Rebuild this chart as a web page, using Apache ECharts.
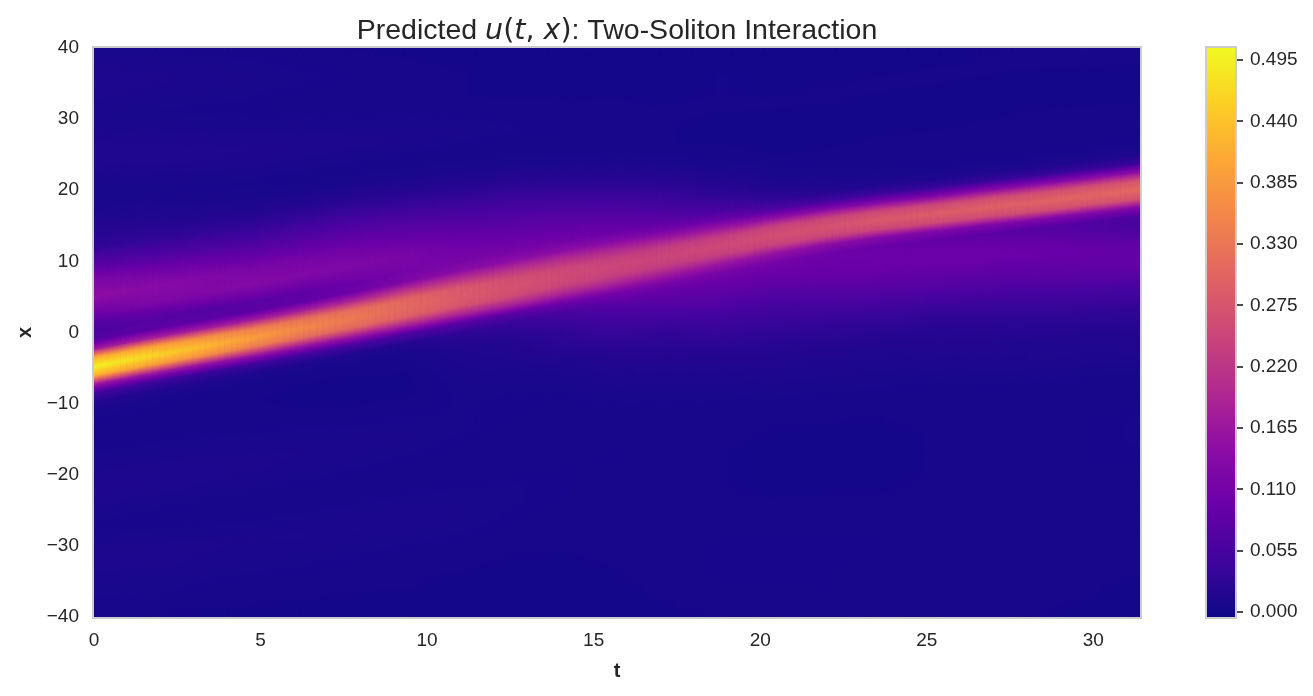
<!DOCTYPE html>
<html><head><meta charset="utf-8">
<style>html,body{margin:0;padding:0;background:#fff}#c{width:1313px;height:696px}</style>
<script src="https://cdn.jsdelivr.net/npm/echarts@6/dist/echarts.min.js"></script>
</head><body><div id="c"></div>
<script>
// Crest of the bright band at each t column
const crestX=[-4.8,-3.4,-2.1,-0.8,0.6,2,3.5,5,6.4,7.9,9.3,10.8,12.2,13.6,14.8,15.8,16.6,17.5,18.3,19.2,20.1];
// u(t,x), in thousandths. Each column has 46 samples:
// 17 between x=-40 and the band, 13 across the band (crest +/- 7.5 in 1.25 steps), 16 from the band up to x=40.
const u00=[4,5,7,8,10,12,10,7,6,8,11,13,11,9,7,6,5, 6,8,18,48,161,415,500,418,171,75,58,74,100, 148,122,72,30,20,12,7,8,13,14,10,8,10,12,10,7];
const u01=[3,5,7,8,10,12,10,7,6,7,10,12,11,9,7,5,5, 6,8,16,44,166,400,470,403,180,82,72,92,125, 140,108,62,30,18,11,7,9,14,13,9,7,9,11,9,6];
const u02=[3,4,6,7,9,10,10,7,5,6,9,11,11,9,7,5,4, 5,7,14,40,160,373,435,376,178,82,68,100,130, 132,98,60,30,16,9,6,10,14,12,8,6,8,9,8,5];
const u03=[3,4,5,6,8,9,10,7,5,5,8,10,10,9,6,5,4, 4,6,13,43,162,342,395,347,178,80,76,108,135, 122,88,55,30,15,8,6,10,13,11,7,6,7,8,7,5];
const u04=[3,3,5,6,7,9,10,8,5,5,7,9,10,8,6,4,3, 4,5,12,46,162,320,360,326,182,86,84,110,130, 118,88,60,34,17,8,5,9,12,10,7,5,6,7,6,4];
const u05=[3,3,4,5,6,8,10,9,6,5,6,8,9,7,5,3,3, 4,6,14,52,166,306,335,316,195,106,98,115,128, 110,86,62,37,20,9,5,8,11,9,6,5,5,6,5,3];
const u06=[3,3,4,4,5,7,9,9,7,5,5,7,8,7,5,3,3, 6,8,18,58,178,294,310,303,215,128,114,118,118, 98,76,54,33,18,9,5,7,10,8,6,4,4,5,4,3];
const u07=[2,3,3,4,5,6,8,8,7,5,5,6,7,7,7,8,10, 12,18,30,72,184,275,288,280,212,140,118,108,100, 82,65,46,29,16,9,5,6,8,7,5,4,4,4,3,3];
const u08=[2,2,3,3,4,5,6,7,7,5,4,5,6,6,7,9,13, 18,25,38,80,185,258,270,262,208,145,117,102,90, 74,59,41,27,16,9,5,5,7,6,5,3,3,3,3,3];
const u09=[2,2,3,3,4,4,5,6,6,6,5,5,5,6,8,12,22, 32,42,58,100,185,245,258,248,200,142,110,95,80, 64,48,32,20,12,7,5,6,6,5,4,3,3,3,3,3];
const u10=[2,3,3,4,5,5,4,4,5,6,6,5,6,9,13,20,32, 48,62,82,112,180,235,250,236,190,130,97,82,66, 52,36,24,15,9,6,5,5,5,4,4,3,3,3,3,3];
const u11=[3,4,5,6,5,5,4,4,5,5,5,4,7,10,15,24,35, 62,76,92,118,176,234,250,234,172,110,78,60,45, 32,22,14,9,6,4,4,4,4,4,3,3,3,3,3,3];
const u12=[4,5,6,6,6,5,4,4,4,4,5,5,8,12,18,31,48, 74,85,97,118,166,237,255,235,165,97,56,38,25, 18,12,8,5,4,3,3,3,4,4,4,4,4,3,3,3];
const u13=[5,5,6,6,6,5,4,3,3,3,4,5,9,13,20,33,48, 75,91,100,113,156,244,265,244,150,65,32,18,11, 8,6,4,3,3,3,3,3,4,4,3,3,3,3,3,3];
const u14=[5,6,6,6,6,5,4,3,3,3,4,5,9,13,22,35,60, 87,95,100,104,142,246,272,246,138,48,18,11,8, 6,5,4,3,3,3,3,3,4,4,4,3,3,3,3,3];
const u15=[4,5,5,6,6,5,4,3,3,3,4,5,9,13,22,39,66, 92,98,100,97,132,251,282,251,131,41,14,8,6, 5,5,4,4,3,3,3,3,3,4,4,4,3,3,3,3];
const u16=[4,4,5,5,5,5,4,4,4,4,5,5,10,14,20,38,68, 94,98,97,88,123,254,290,254,130,38,12,7,6, 5,5,4,4,3,3,3,3,3,3,4,4,4,3,3,3];
const u17=[4,4,4,5,5,5,5,4,4,4,5,6,11,15,24,42,72, 96,98,94,80,126,258,295,260,136,36,12,7,6, 5,5,5,4,4,3,3,3,3,3,3,4,4,4,4,3];
const u18=[4,4,4,4,5,5,5,5,5,5,5,6,12,15,26,46,78, 97,94,82,72,126,264,300,264,140,38,12,7,6, 5,5,5,4,4,4,3,3,3,3,3,3,4,4,4,4];
const u19=[3,4,4,4,4,5,5,6,6,6,5,6,12,16,28,50,84, 94,84,68,66,128,268,305,268,142,38,12,7,6, 5,5,4,4,4,4,3,3,3,3,3,3,4,4,4,4];
const u20=[3,3,4,4,4,5,5,6,7,7,5,5,13,17,31,56,90, 85,66,54,62,132,272,310,272,143,38,12,7,6, 5,5,4,4,4,4,3,3,3,3,3,3,4,4,4,4];
const columns=[u00,u01,u02,u03,u04,u05,u06,u07,u08,u09,u10,u11,u12,u13,u14,u15,u16,u17,u18,u19,u20];

const tStep=1.57, tMax=31.4, xLow=-40, xHigh=40, nBelow=17, nAbove=16, bandStep=1.25, bandHalf=7.5;
const xTicksStep=5, yTicksStep=10;
const barTickLabels=[0,0.055,0.11,0.165,0.22,0.275,0.33,0.385,0.44,0.495];
const plasma=['#0d0887','#41049d','#6a00a8','#8f0da4','#b12a90','#cc4778','#e16462','#f2844b','#fca636','#fcce25','#f0f921'];
const vLow=-0.0045, vHigh=0.5058;

function hexRgb(h){return [1,3,5].map(k=>parseInt(h.substr(k,2),16));}
const plasmaRgb=plasma.map(hexRgb);
function colorOf(v){
  let f=(v-vLow)/(vHigh-vLow); f=Math.max(0,Math.min(1,f))*(plasma.length-1);
  const a=Math.min(Math.floor(f),plasma.length-2), r=f-a;
  const c=plasmaRgb[a].map((q,k)=>Math.round(q+(plasmaRgb[a+1][k]-q)*r));
  return 'rgb('+c.join(',')+')';
}
function rowX(i,j){
  const c=crestX[i];
  if(j<nBelow) return xLow+(c-bandHalf-xLow)*j/nBelow;
  const mid=nBelow+bandHalf/bandStep;
  if(j<=mid+bandHalf/bandStep) return c+(j-mid)*bandStep;
  const top=mid+bandHalf/bandStep;
  return c+bandHalf+(xHigh-c-bandHalf)*(j-top)/nAbove;
}
const nRows=u00.length, nCols=columns.length, strips=8;
const cells=[];
columns.forEach((col,i)=>col.forEach((v,j)=>cells.push([i*tStep,rowX(i,j),v/1000])));

function renderCell(params,api){
  const idx=params.dataIndex, i=Math.floor(idx/nRows), j=idx-i*nRows;
  if(i>=nCols-1||j>=nRows-1) return null;
  const t=api.value(0), P=(f,r)=>api.coord([t+f*tStep,rowX(i,r)+(rowX(i+1,r)-rowX(i,r))*f]);
  const V=(f,r)=>(columns[i][r]+(columns[i+1][r]-columns[i][r])*f)/1000;
  const children=[];
  for(let s=0;s<strips;s++){
    const f0=s/strips,f1=(s+1)/strips,fm=(f0+f1)/2;
    const A=P(f0,j),B=P(f1,j),C=P(f1,j+1),D=P(f0,j+1);
    const mx0=(A[0]+B[0])/2,my0=(A[1]+B[1])/2,mx1=(C[0]+D[0])/2,my1=(C[1]+D[1])/2;
    const ex=(B[0]-A[0])+(C[0]-D[0]), ey=(B[1]-A[1])+(C[1]-D[1]), el=Math.hypot(ex,ey);
    const nx=-ey/el, ny=ex/el, p=(mx1-mx0)*nx+(my1-my0)*ny;
    const v0=V(fm,j), v1=V(fm,j+1), stops=[];
    for(let q=0;q<=4;q++) stops.push({offset:q/4,color:colorOf(v0+(v1-v0)*q/4)});
    const fill={type:'linear',global:true,x:mx0,y:my0,x2:mx0+nx*p,y2:my0+ny*p,colorStops:stops};
    children.push({type:'polygon',shape:{points:[A,B,C,D]},style:{fill:fill,stroke:fill,lineWidth:0.8}});
  }
  return {type:'group',children:children};
}
function renderBar(params,api){
  const a=api.coord([0,vLow]), b=api.coord([1,vHigh]);
  const children=[{type:'rect',shape:{x:a[0],y:b[1],width:b[0]-a[0],height:a[1]-b[1]},
    style:{fill:{type:'linear',x:0,y:1,x2:0,y2:0,colorStops:plasma.map((c,k)=>({offset:k/(plasma.length-1),color:c}))}}}];
  barTickLabels.forEach(v=>{
    const p=api.coord([1,v]);
    children.push({type:'line',shape:{x1:p[0]+2,y1:Math.round(p[1]),x2:p[0]+8,y2:Math.round(p[1])},
      style:{stroke:'#4d4d4d',lineWidth:2}});
  });
  return {type:'group',children:children};
}
const ink='#262626', sans='"Liberation Sans",Arial,sans-serif', math='"DejaVu Sans",sans-serif';
const chart=echarts.init(document.getElementById('c'),null,{renderer:'canvas'});
chart.setOption({
  animation:false,
  backgroundColor:'#fff',
  title:{
    text:'{n|Predicted }{i|u}{m|(}{i|t}{m|,}{m| }{i|x}{m|)}{n|: Two-Soliton Interaction}',
    left:612,top:12,textAlign:'center',
    textStyle:{fontWeight:'normal',rich:{
      n:{fontFamily:sans,fontWeight:'normal',fontSize:28.5,color:ink},
      i:{fontFamily:math,fontWeight:'normal',fontStyle:'italic',fontSize:28.5,color:ink},
      m:{fontFamily:math,fontWeight:'normal',fontSize:28.5,color:ink}
    }}
  },
  grid:[
    {left:94,top:48,width:1046,height:569,show:true,borderColor:'#cccccc',borderWidth:4,backgroundColor:'#0d0887'},
    {left:1207,top:48,width:28,height:569,show:true,borderColor:'#cccccc',borderWidth:4,backgroundColor:'#0d0887'}
  ],
  xAxis:[
    {gridIndex:0,type:'value',min:0,max:tMax,interval:xTicksStep,name:'t',nameLocation:'middle',nameGap:44,
     nameTextStyle:{fontFamily:sans,fontWeight:'bold',fontSize:20,color:ink},
     axisLine:{show:false},axisTick:{show:false},splitLine:{show:false},
     axisLabel:{margin:14,fontFamily:sans,fontSize:19,color:ink,showMaxLabel:false}},
    {gridIndex:1,type:'value',min:0,max:1,show:false,splitLine:{show:false}}
  ],
  yAxis:[
    {gridIndex:0,type:'value',min:-40,max:40,interval:yTicksStep,name:'x',nameLocation:'middle',nameGap:58,nameRotate:90,
     nameTextStyle:{fontFamily:sans,fontWeight:'bold',fontSize:20,color:ink},
     axisLine:{show:false},axisTick:{show:false},splitLine:{show:false},
     axisLabel:{margin:15,fontFamily:sans,fontSize:19,color:ink,formatter:v=>String(v).replace('-','\u2212')}},
    {gridIndex:1,type:'value',position:'right',min:vLow,max:vHigh,splitLine:{show:false},
     axisLine:{show:false},axisTick:{show:false},
     axisLabel:{margin:15,fontFamily:sans,fontSize:19,color:ink,customValues:barTickLabels,formatter:v=>v.toFixed(3)}}
  ],
  series:[
    {type:'custom',name:'u(t,x)',xAxisIndex:0,yAxisIndex:0,coordinateSystem:'cartesian2d',clip:true,silent:true,
     data:cells,encode:{x:0,y:1},renderItem:renderCell,progressive:0},
    {type:'custom',name:'colorbar',xAxisIndex:1,yAxisIndex:1,coordinateSystem:'cartesian2d',clip:false,silent:true,
     data:[[0,vLow]],encode:{x:0,y:1},renderItem:renderBar}
  ]
});
</script></body></html>
